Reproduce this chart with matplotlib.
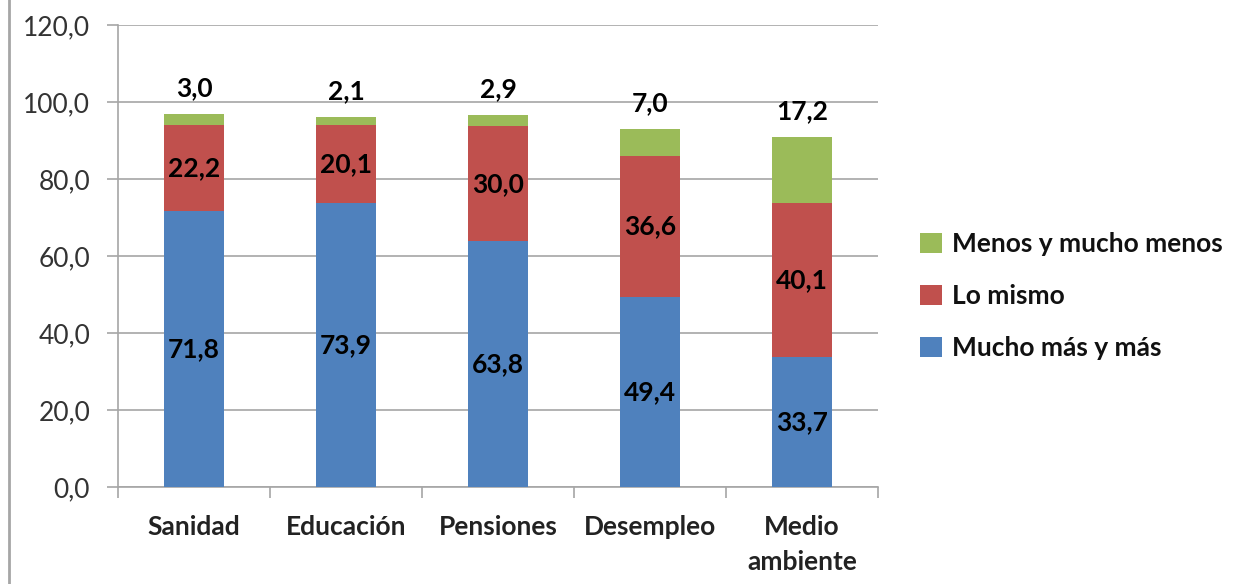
import matplotlib.pyplot as plt
import numpy as np

plt.rcParams["font.family"] = ["Lato", "DejaVu Sans"]

categorias = ["Sanidad", "Educación", "Pensiones", "Desempleo", "Medio\nambiente"]
mucho_mas = [71.8, 73.9, 63.8, 49.4, 33.7]
lo_mismo = [22.2, 20.1, 30.0, 36.6, 40.1]
menos = [3.0, 2.1, 2.9, 7.0, 17.2]
series = ["Mucho más y más", "Lo mismo", "Menos y mucho menos"]
colores = ["#4F81BD", "#C0504D", "#9BBB59"]

FS = 19


def fmt(v):
    return f"{v:.1f}".replace(".", ",")


fig = plt.figure(figsize=(12.42, 5.84), dpi=100)
ax = fig.add_axes([0.095, 0.166, 0.612, 0.791])

x = np.arange(len(categorias))
width = 0.4
bottom = np.zeros(len(categorias))
for vals, col, lab in zip([mucho_mas, lo_mismo, menos], colores, series):
    vals = np.array(vals)
    ax.bar(x, vals, width, bottom=bottom, color=col, label=lab, zorder=3)
    if lab != "Menos y mucho menos":
        for xi, b, v in zip(x, bottom, vals):
            ax.text(xi, b + v / 2, fmt(v), ha="center", va="center",
                    fontsize=FS, fontweight="bold", color="black", zorder=4)
    else:
        for xi, b, v in zip(x, bottom, vals):
            ax.annotate(fmt(v), (xi, b + v), xytext=(0, 10), textcoords="offset points",
                        ha="center", va="bottom", fontsize=FS, fontweight="bold",
                        color="black", zorder=4)
    bottom = bottom + vals

ax.set_ylim(0, 120)
ax.set_xlim(-0.5, len(categorias) - 0.5)
ax.set_yticks(np.arange(0, 121, 20))
ax.set_yticklabels([fmt(v) for v in np.arange(0, 121, 20)], fontsize=FS, color="#333333")
ax.yaxis.grid(True, color="#A6A6A6", linewidth=1.2, zorder=0)

ax.set_xticks(x)
ax.set_xticklabels(categorias, fontsize=FS, fontweight="bold", color="#222222",
                   linespacing=1.55)
ax.tick_params(axis="x", length=0, pad=20)
ax.set_xticks(np.arange(-0.5, len(categorias), 1), minor=True)
ax.tick_params(axis="x", which="minor", length=8, color="#A6A6A6", width=1.2)
ax.tick_params(axis="y", length=8, color="#A6A6A6", width=1.2, pad=12)

for s in ["top", "right"]:
    ax.spines[s].set_visible(False)
for s in ["left", "bottom"]:
    ax.spines[s].set_color("#A6A6A6")
    ax.spines[s].set_linewidth(1.2)

handles, labels = ax.get_legend_handles_labels()
leg = fig.legend(handles[::-1], labels[::-1], loc="center left",
                 bbox_to_anchor=(0.722, 0.493), frameon=False, fontsize=FS,
                 handlelength=0.8, handleheight=0.8, handletextpad=0.4,
                 labelspacing=1.05)
for t in leg.get_texts():
    t.set_fontweight("bold")
    t.set_color("#111111")

fig.add_artist(plt.Line2D([0.007, 0.007], [0, 1], color="#A6A6A6", linewidth=2,
                          transform=fig.transFigure))

fig.savefig("out.png", dpi=100)
